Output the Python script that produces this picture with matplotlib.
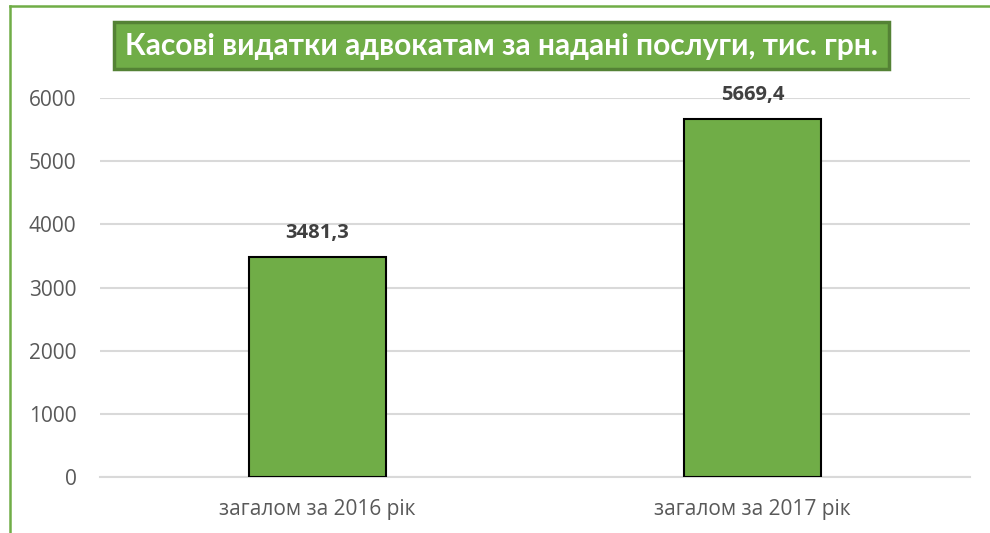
import matplotlib.pyplot as plt
from matplotlib.patches import Rectangle

categories = ['загалом за 2016 рік', 'загалом за 2017 рік']
values = [3481.3, 5669.4]
value_labels = ['3481,3', '5669,4']
yticks = [0, 1000, 2000, 3000, 4000, 5000, 6000]
title = 'Касові видатки адвокатам за надані послуги, тис. грн.'

plt.rcParams['font.family'] = ['Open Sans', 'DejaVu Sans']

W, H = 990, 533
fig = plt.figure(figsize=(W / 100, H / 100), dpi=100)
fig.patch.set_facecolor('white')

# outer green frame (left + top only visible)
fig.add_artist(plt.Line2D([10 / W, 10 / W], [0, 1 - 6 / H], color='#70AD47', lw=1.8,
                          transform=fig.transFigure))
fig.add_artist(plt.Line2D([10 / W, 1], [1 - 6 / H, 1 - 6 / H], color='#70AD47', lw=1.8,
                          transform=fig.transFigure))

ax = fig.add_axes([100 / W, 1 - 477 / H, 870 / W, 379 / H])
x = range(len(categories))
ax.bar(x, values, width=0.315, color='#70AD47', edgecolor='black', linewidth=1.5, zorder=3)
ax.set_xlim(-0.5, 1.5)
ax.set_ylim(0, 6000)
ax.set_yticks(yticks)
ax.set_yticklabels([str(t) for t in yticks])
ax.set_xticks(list(x))
ax.set_xticklabels(categories)
ax.tick_params(axis='both', length=0, colors='#595959', labelsize=15)
ax.tick_params(axis='y', pad=17)
ax.tick_params(axis='x', pad=16)
ax.grid(axis='y', color='#D9D9D9', lw=1.5, zorder=0)
for s in ['top', 'right', 'left']:
    ax.spines[s].set_visible(False)
ax.spines['bottom'].set_color('#D9D9D9')
ax.spines['bottom'].set_linewidth(1.5)

for i, v in enumerate(values):
    ax.annotate(value_labels[i], (i, v), xytext=(0, 10), textcoords='offset points',
                ha='center', va='bottom', fontsize=14.5, fontweight='bold', color='#404040')

# title box
fig.add_artist(Rectangle((114 / W, 1 - 69 / H), 775 / W, 47 / H, transform=fig.transFigure,
                         facecolor='#70AD47', edgecolor='#548235', lw=2.5))
fig.text(501.5 / W, 1 - 46 / H, title, ha='center', va='center', color='white',
         fontsize=21.5, fontweight='bold', family=['Lato', 'DejaVu Sans'])

fig.savefig('out.png', dpi=100)
